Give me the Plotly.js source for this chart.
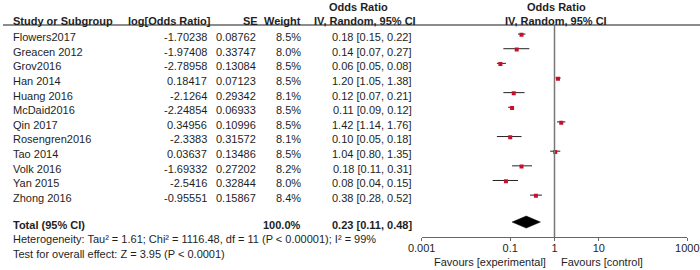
<!DOCTYPE html>
<html>
<head>
<meta charset="utf-8">
<script src="https://cdn.plot.ly/plotly-3.0.1.min.js"></script>
<style>html,body{margin:0;padding:0;background:#fff;}#chart{width:700px;height:270px;}</style>
</head>
<body>
<div id="chart"></div>
<script>
// ---- data ----
const studies = ["Flowers2017","Greacen 2012","Grov2016","Han 2014","Huang 2016","McDaid2016","Qin 2017","Rosengren2016","Tao 2014","Volk 2016","Yan 2015","Zhong 2016"];
const logOR = ["-1.70238","-1.97408","-2.78958","0.18417","-2.1264","-2.24854","0.34956","-2.3383","0.03637","-1.69332","-2.5416","-0.95551"];
const seVals = ["0.08762","0.33747","0.13084","0.07123","0.29342","0.06933","0.10996","0.31572","0.13486","0.27202","0.32844","0.15867"];
const weights = [8.5, 8.0, 8.5, 8.5, 8.1, 8.5, 8.5, 8.1, 8.5, 8.2, 8.0, 8.4];
const orEst = [0.18, 0.14, 0.06, 1.20, 0.12, 0.11, 1.42, 0.10, 1.04, 0.18, 0.08, 0.38];
const ciLow = [0.15, 0.07, 0.05, 1.05, 0.07, 0.09, 1.14, 0.05, 0.80, 0.11, 0.04, 0.28];
const ciHigh = [0.22, 0.27, 0.08, 1.38, 0.21, 0.12, 1.76, 0.18, 1.35, 0.31, 0.15, 0.52];
const totalLabel = "Total (95% CI)";
const totalWeight = 100.0;
const totalOR = 0.23, totalLow = 0.11, totalHigh = 0.48;
const heterogeneity = "Heterogeneity: Tau² = 1.61; Chi² = 1116.48, df = 11 (P < 0.00001); I² = 99%";
const overallTest = "Test for overall effect: Z = 3.95 (P < 0.0001)";
const tickVals = [0.001, 0.1, 1, 10, 1000];
const tickText = ["0.001", "0.1", "1", "10", "1000"];
const favLeft = "Favours [experimental]";
const favRight = "Favours [control]";

// ---- geometry (style) ----
const W = 700, H = 270;
const ROW0 = 37, ROWH = 14.64;
const rowOf = px => (px - ROW0) / ROWH;
const paperY = px => 1 - px / H;
const paperX = px => px / W;
const MOFF = -0.2;
const totalRow = rowOf(225);
const FONT = "Liberation Sans, Arial, Helvetica, sans-serif";
const TXT = "#1e1e1e";
const fmt2 = v => v.toFixed(2);

const rows = studies.map((_, i) => i);

// CI segments
const ciX = [], ciY = [];
rows.forEach(i => { ciX.push(ciLow[i], ciHigh[i], null); ciY.push(i + MOFF, i + MOFF, null); });

const dH = 6 / ROWH;
const tr = totalRow + MOFF;

const traces = [
  { x: ciX, y: ciY, mode: "lines", line: { color: "#222", width: 1 }, hoverinfo: "skip", showlegend: false, xaxis: "x", yaxis: "y" },
  { x: orEst, y: rows.map(i => i + MOFF + 0.05), mode: "markers", marker: { symbol: "square", size: 4, color: "#c8102e", line: { width: 0 } }, showlegend: false, xaxis: "x", yaxis: "y" },
  { x: [totalLow, totalOR, totalHigh, totalOR, totalLow], y: [tr, tr - dH, tr, tr + dH, tr], mode: "lines", fill: "toself", fillcolor: "#000", line: { color: "#000", width: 0.5 }, showlegend: false, xaxis: "x", yaxis: "y" }
];

const ann = [];
function txt(x, y, text, anchor, opts) {
  ann.push(Object.assign({ x: x, y: y, xref: "paper", yref: "y", text: text, showarrow: false, xanchor: anchor, yanchor: "middle", borderpad: 0,
    font: { family: FONT, size: 11, color: TXT } }, opts || {}));
}
// header
const hy = paperY(21), hy0 = paperY(7);
const hopt = { yref: "paper" };
txt(paperX(12), hy, "<b>Study or Subgroup</b>", "left", hopt);
txt(paperX(212), hy, "<b>log[Odds Ratio]</b>", "right", hopt);
txt(paperX(259), hy, "<b>SE</b>", "right", hopt);
txt(paperX(302), hy, "<b>Weight</b>", "right", hopt);
txt(paperX(358), hy0, "<b>Odds Ratio</b>", "center", hopt);
txt(paperX(365), hy, "<b>IV, Random, 95% CI</b>", "center", hopt);
txt(paperX(556), hy0, "<b>Odds Ratio</b>", "center", hopt);
txt(paperX(556), hy, "<b>IV, Random, 95% CI</b>", "center", hopt);

// rows
rows.forEach(i => {
  txt(paperX(12), i, studies[i], "left");
  txt(paperX(208), i, logOR[i], "right");
  txt(paperX(257), i, seVals[i], "right");
  txt(paperX(302), i, weights[i].toFixed(1) + "%", "right");
  txt(paperX(413), i, fmt2(orEst[i]) + " [" + fmt2(ciLow[i]) + ", " + fmt2(ciHigh[i]) + "]", "right");
});
// total
txt(paperX(12), totalRow, "<b>" + totalLabel + "</b>", "left");
txt(paperX(302), totalRow, "<b>" + totalWeight.toFixed(1) + "%</b>", "right");
txt(paperX(413), totalRow, "<b>" + fmt2(totalOR) + " [" + fmt2(totalLow) + ", " + fmt2(totalHigh) + "]</b>", "right");
txt(paperX(12), rowOf(238.5), heterogeneity, "left");
txt(paperX(12), rowOf(253.5), overallTest, "left");
// favours
txt(paperX(547), paperY(262), favLeft, "right", hopt);
txt(paperX(560), paperY(262), favRight, "left", hopt);

const layout = {
  width: W, height: H,
  margin: { l: 0, r: 0, t: 0, b: 0, pad: 0 },
  paper_bgcolor: "#fff", plot_bgcolor: "rgba(0,0,0,0)",
  font: { family: FONT, size: 11, color: TXT },
  showlegend: false,
  xaxis: {
    type: "log", range: [-3, 3], domain: [421.7 / W, 687.3 / W],
    anchor: "free", position: paperY(237.3),
    showline: true, linecolor: "#666", linewidth: 1,
    ticks: "outside", ticklen: 3, tickcolor: "#666", tickwidth: 1,
    ticklabelstandoff: -3,
    tickvals: tickVals, ticktext: tickText,
    tickfont: { family: FONT, size: 11, color: TXT },
    showgrid: false, zeroline: false, fixedrange: true
  },
  yaxis: {
    range: [(H - ROW0) / ROWH, -ROW0 / ROWH], domain: [0, 1],
    visible: false, showgrid: false, zeroline: false, fixedrange: true
  },
  shapes: [
    { type: "line", xref: "paper", yref: "paper", x0: paperX(3), x1: 1, y0: paperY(25), y1: paperY(25), line: { color: "#666", width: 1.5 } },
    { type: "line", xref: "x", yref: "paper", x0: 1, x1: 1, y0: paperY(25), y1: paperY(237.3), line: { color: "#777", width: 1.5 } }
  ],
  annotations: ann
};

Plotly.newPlot("chart", traces, layout, { displayModeBar: false, staticPlot: true });
</script>
</body>
</html>
